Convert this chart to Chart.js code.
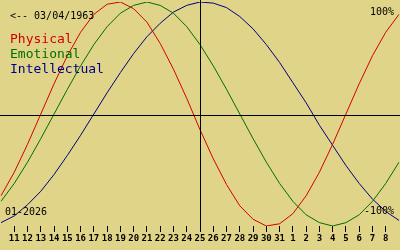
<!DOCTYPE html>
<html>
<head>
<meta charset="utf-8">
<script src="https://cdn.jsdelivr.net/npm/chart.js@4"></script>
<style>
  html, body { margin: 0; padding: 0; background: #e0d488; }
  #wrap { width: 400px; height: 250px; }
</style>
</head>
<body>
<div id="wrap"><canvas id="bioChart" width="400" height="250"></canvas></div>
<script>
// Days shown (Jan 2026 -> Feb 2026); first and last are the chart edges
const days = ['10','11','12','13','14','15','16','17','18','19','20','21','22','23','24','25',
              '26','27','28','29','30','31','1','2','3','4','5','6','7','8','9'];

// Percent values
const physical = [-73,-52,-27,0,27,52,73,89,98,100,94,82,63,40,14,-14,
                  -40,-63,-82,-94,-100,-98,-89,-73,-52,-27,0,27,52,73,89];
const emotional = [-78,-62,-43,-22,0,22,43,62,78,90,97,100,97,90,78,62,
                   43,22,0,-22,-43,-62,-78,-90,-97,-100,-97,-90,-78,-62,-43];
const intellectual = [-97,-91,-81,-69,-54,-37,-19,0,19,37,54,69,81,91,97,100,
                      99,95,87,76,62,46,28,10,-10,-28,-46,-62,-76,-87,-95];

const today = '25';
const birthText = '<-- 03/04/1963';
const monthText = '01-2026';

const RED = '#d20000';
const GREEN = '#006e00';
const BLUE = '#000082';
const MONO = '"DejaVu Sans Mono", "Liberation Mono", monospace';

// Axes cross + all the texts
const overlay = {
    id: 'overlay',
    afterDatasetsDraw(chart) {
        const ctx = chart.ctx;
        const x = chart.scales.x;
        const y = chart.scales.y;
        const cx = Math.round(x.getPixelForValue(days.indexOf(today)));
        const cy = Math.round(y.getPixelForValue(0)) + 1;
        ctx.save();
        ctx.fillStyle = '#000';
        ctx.fillRect(0, cy, chart.width, 1);
        ctx.fillRect(cx, 0, 1, 231);

        ctx.textBaseline = 'middle';
        ctx.font = '10px ' + MONO;
        ctx.textAlign = 'left';
        ctx.fillText(birthText, 10, 16);
        ctx.fillText(monthText, 5, 212);
        ctx.textAlign = 'right';
        ctx.fillText('100%', 394, 12);
        ctx.fillText('-100%', 394, 211);

        ctx.textAlign = 'left';
        ctx.textBaseline = 'alphabetic';
        ctx.font = '13px ' + MONO;
        ctx.fillStyle = RED;
        ctx.fillText('Physical', 10, 43);
        ctx.fillStyle = GREEN;
        ctx.fillText('Emotional', 10, 58);
        ctx.fillStyle = BLUE;
        ctx.fillText('Intellectual', 10, 73);
        ctx.restore();
    }
};

function makeLine(label, data, color) {
    return {
        label: label,
        data: data,
        borderColor: color,
        borderWidth: 1,
        pointRadius: 0,
        tension: 0,
        fill: false
    };
}

const chart = new Chart(document.getElementById('bioChart'), {
    type: 'line',
    data: {
        labels: days,
        datasets: [
            makeLine('Physical', physical, RED),
            makeLine('Emotional', emotional, GREEN),
            makeLine('Intellectual', intellectual, BLUE)
        ]
    },
    options: {
        responsive: false,
        animation: false,
        layout: { padding: { top: 2, left: 0, right: 0, bottom: 0 } },
        plugins: { legend: { display: false }, tooltip: { enabled: false } },
        scales: {
            x: {
                offset: false,
                border: { display: false },
                grid: {
                    drawOnChartArea: false,
                    tickLength: 6,
                    color: c => (c.index === 0 || c.index === days.length - 1) ? 'transparent' : '#000'
                },
                ticks: {
                    autoSkip: false,
                    maxRotation: 0,
                    padding: 1,
                    color: '#000',
                    font: { family: MONO, size: 9, weight: 'bold' },
                    callback: (v, i) => (i === 0 || i === days.length - 1) ? '' : days[i]
                },
                afterFit: s => { s.height = 24; }
            },
            y: { display: false, min: -100, max: 100 }
        }
    },
    plugins: [overlay]
});
</script>
</body>
</html>
